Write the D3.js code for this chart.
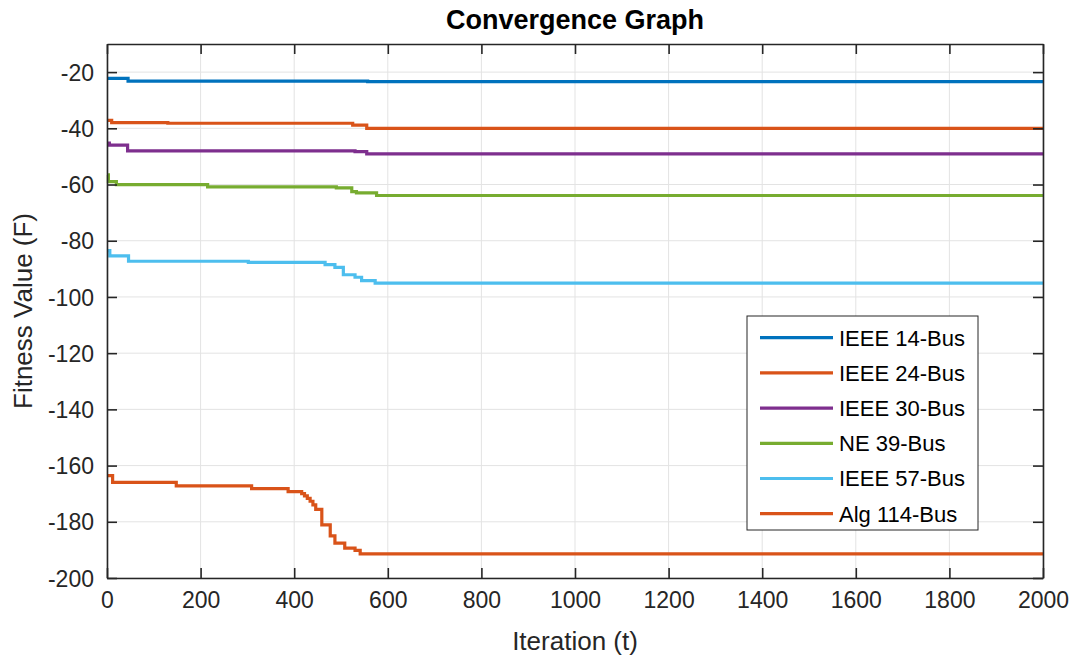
<!DOCTYPE html>
<html>
<head>
<meta charset="utf-8">
<script src="https://cdn.jsdelivr.net/npm/d3@7"></script>
<style>
  body { margin: 0; background: #fff; }
  text { font-family: Arial, "Liberation Sans", Helvetica, sans-serif; }
</style>
</head>
<body>
<svg id="chart" width="1075" height="657"></svg>
<script>
// series values (step curves)
const ieee14Iter = [0, 45, 557, 2000];
const ieee14Fit = [-22.2, -23.2, -23.4, -23.4];

const ieee24Iter = [0, 10, 130, 525, 555, 2000];
const ieee24Fit = [-37.2, -38.0, -38.2, -38.9, -40.0, -40.0];

const ieee30Iter = [0, 5, 44, 530, 555, 2000];
const ieee30Fit = [-45.3, -46.0, -48.0, -48.3, -49.1, -49.1];

const ne39Iter = [0, 3, 20, 215, 490, 523, 533, 576, 2000];
const ne39Fit = [-56.6, -59.0, -60.0, -60.8, -61.2, -62.5, -63.0, -63.9, -63.9];

const ieee57Iter = [0, 6, 46, 302, 466, 487, 505, 530, 544, 573, 2000];
const ieee57Fit = [-83.5, -85.4, -87.3, -87.7, -88.5, -89.5, -92.1, -93.0, -94.2, -95.1, -95.1];

const alg114Iter = [0, 12, 148, 309, 387, 416, 422, 428, 434, 440, 446, 459, 477, 487, 508, 530, 541, 2000];
const alg114Fit = [-163.6, -166.0, -167.2, -168.2, -169.3, -170.0, -170.8, -171.7, -172.7, -174.0, -175.6, -181.1, -185.0, -187.6, -189.4, -190.2, -191.4, -191.4];

const seriesNames = ["IEEE 14-Bus", "IEEE 24-Bus", "IEEE 30-Bus", "NE 39-Bus", "IEEE 57-Bus", "Alg 114-Bus"];
const seriesColors = ["#0072BD", "#D95319", "#7E2F8E", "#77AC30", "#4DBEEE", "#D95319"];
const seriesIters = [ieee14Iter, ieee24Iter, ieee30Iter, ne39Iter, ieee57Iter, alg114Iter];
const seriesFits = [ieee14Fit, ieee24Fit, ieee30Fit, ne39Fit, ieee57Fit, alg114Fit];

const xTicks = [0, 200, 400, 600, 800, 1000, 1200, 1400, 1600, 1800, 2000];
const yTicks = [-200, -180, -160, -140, -120, -100, -80, -60, -40, -20];

let svg = d3.select("#chart");

let plotLeft = 107, plotRight = 1043, plotTop = 44, plotBottom = 578;

let x = d3.scaleLinear().domain([0, 2000]).range([plotLeft, plotRight]);
let y = d3.scaleLinear().domain([-200, -10]).range([plotBottom, plotTop]);

let axisColor = "#262626";
let plainNum = d => String(d); // no thousands separator, ascii minus

// grid
let grid = svg.append("g");
grid.selectAll(".gx")
    .data(xTicks)
    .enter()
    .append("line")
    .attr("x1", d => x(d)).attr("x2", d => x(d))
    .attr("y1", plotTop).attr("y2", plotBottom)
    .attr("stroke", "#e3e3e3").attr("stroke-width", 1);
grid.selectAll(".gy")
    .data(yTicks)
    .enter()
    .append("line")
    .attr("x1", plotLeft).attr("x2", plotRight)
    .attr("y1", d => y(d)).attr("y2", d => y(d))
    .attr("stroke", "#e3e3e3").attr("stroke-width", 1);

// lines
let line = d3.line()
    .x(d => x(d[0]))
    .y(d => y(d[1]))
    .curve(d3.curveStepAfter);

seriesNames.forEach((name, i) => {
    let pts = seriesIters[i].map((it, j) => [it, seriesFits[i][j]]);
    svg.append("path")
        .datum(pts)
        .attr("fill", "none")
        .attr("stroke", seriesColors[i])
        .attr("stroke-width", 3.2)
        .attr("d", line);
});

// axes (ticks inward, mirrored on top/right)
let tickFont = "23px";
let xAxis = svg.append("g")
    .attr("transform", `translate(0,${plotBottom})`)
    .call(d3.axisBottom(x).tickValues(xTicks).tickFormat(plainNum).tickSizeInner(-10).tickSizeOuter(0).tickPadding(14));
let xAxisTop = svg.append("g")
    .attr("transform", `translate(0,${plotTop})`)
    .call(d3.axisTop(x).tickValues(xTicks).tickSizeInner(-10).tickSizeOuter(0).tickFormat(""));
let yAxis = svg.append("g")
    .attr("transform", `translate(${plotLeft},0)`)
    .call(d3.axisLeft(y).tickValues(yTicks).tickFormat(plainNum).tickSizeInner(-10).tickSizeOuter(0).tickPadding(13));
let yAxisRight = svg.append("g")
    .attr("transform", `translate(${plotRight},0)`)
    .call(d3.axisRight(y).tickValues(yTicks).tickSizeInner(-10).tickSizeOuter(0).tickFormat(""));

[xAxis, xAxisTop, yAxis, yAxisRight].forEach(g => {
    g.selectAll("path").attr("stroke", axisColor).attr("stroke-width", 1.6);
    g.selectAll("line").attr("stroke", axisColor).attr("stroke-width", 1.6);
    g.selectAll("text").attr("fill", axisColor).style("font-size", tickFont);
});
xAxis.selectAll("text").attr("dy", "0.71em");
yAxis.selectAll("text").attr("dy", "0.35em");

// axis labels
svg.append("text")
    .attr("x", (plotLeft + plotRight) / 2)
    .attr("y", 650)
    .attr("text-anchor", "middle")
    .attr("fill", axisColor)
    .style("font-size", "26px")
    .text("Iteration (t)");

svg.append("text")
    .attr("transform", `translate(32,${(plotTop + plotBottom) / 2}) rotate(-90)`)
    .attr("text-anchor", "middle")
    .attr("fill", axisColor)
    .style("font-size", "26px")
    .text("Fitness Value (F)");

svg.append("text")
    .attr("x", (plotLeft + plotRight) / 2)
    .attr("y", 29)
    .attr("text-anchor", "middle")
    .attr("fill", "#000")
    .style("font-size", "27px")
    .style("font-weight", "bold")
    .text("Convergence Graph");

// legend
let legend = svg.append("g").attr("transform", "translate(747,316)");
legend.append("rect")
    .attr("width", 231).attr("height", 214)
    .attr("fill", "#fff")
    .attr("stroke", axisColor)
    .attr("stroke-width", 1);

let entries = legend.selectAll(".entry")
    .data(seriesNames)
    .enter()
    .append("g")
    .attr("transform", (d, i) => `translate(0,${21.7 + i * 35.2})`);
entries.append("line")
    .attr("x1", 13).attr("x2", 86)
    .attr("stroke", (d, i) => seriesColors[i])
    .attr("stroke-width", 3.2);
entries.append("text")
    .attr("x", 92)
    .attr("dy", "0.36em")
    .attr("fill", "#000")
    .style("font-size", "22px")
    .text(d => d);
</script>
</body>
</html>
